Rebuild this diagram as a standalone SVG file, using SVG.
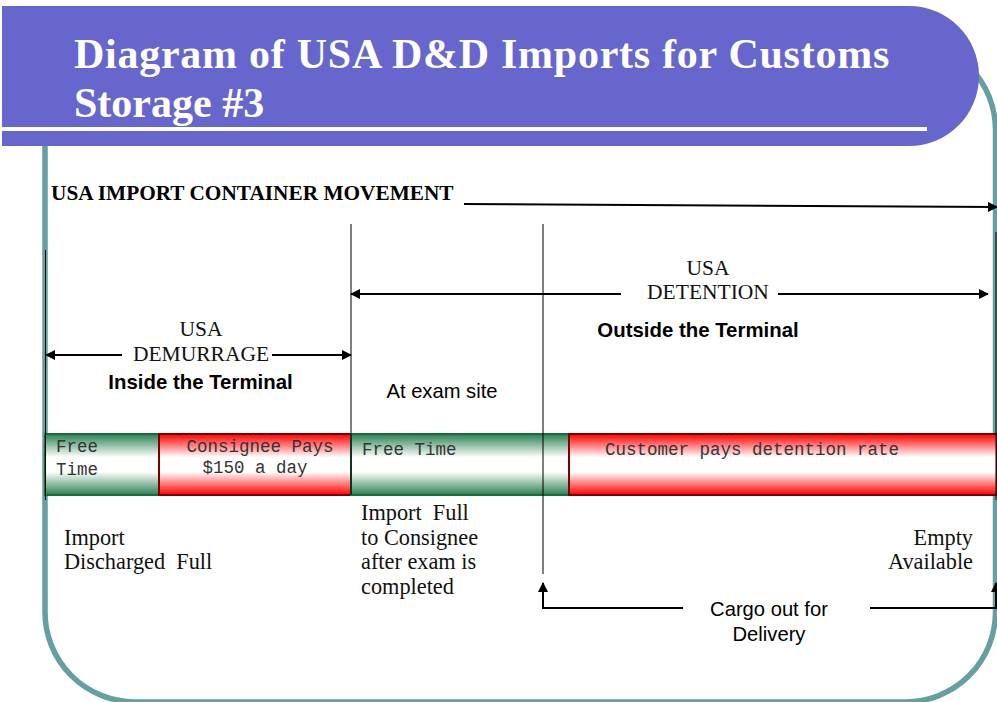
<svg xmlns="http://www.w3.org/2000/svg" width="997" height="702" viewBox="0 0 997 702">
<style>
.t{font-family:"Liberation Serif",serif;font-size:22.3px;fill:#111;white-space:pre}
.u{font-family:"Liberation Serif",serif;font-size:21.5px;fill:#111}
.k{font-family:"Liberation Serif",serif;font-size:21.3px;font-weight:bold;fill:#000}
.s{font-family:"Liberation Sans",Arial,sans-serif;font-size:20.2px;fill:#000}
.b{font-weight:bold;font-size:20.4px}
.m{font-family:"Liberation Mono",monospace;font-size:17.5px;fill:#333}
.h{font-family:"Liberation Serif",serif;font-size:42px;font-weight:bold;fill:#fff}
.c{fill:none;stroke:#000;stroke-width:2}
.th{fill:none;stroke:#000;stroke-width:1}
.gb{stroke:#1c6b3c;stroke-width:2}
.rb{stroke:#7a0000;stroke-width:2}
</style>
<defs>
<linearGradient id="g" x1="0" y1="0" x2="0" y2="1"><stop offset="0" stop-color="#2a8052"/><stop offset=".38" stop-color="#fff"/><stop offset=".62" stop-color="#fff"/><stop offset="1" stop-color="#2a8052"/></linearGradient>
<linearGradient id="r" x1="0" y1="0" x2="0" y2="1"><stop offset="0" stop-color="#ff0000"/><stop offset=".38" stop-color="#fff"/><stop offset=".62" stop-color="#fff"/><stop offset="1" stop-color="#ff0000"/></linearGradient>
<marker id="a" viewBox="0 0 10 10" refX="9" refY="5" markerWidth="5" markerHeight="5" orient="auto-start-reverse" markerUnits="strokeWidth"><path d="M0 0L10 5L0 10Z" fill="#000"/></marker>
</defs>
<g id="frame"><path d="M45 140V612A90 90 0 0 0 135 702H905A90 90 0 0 0 995.500 612V130A90 90 0 0 0 905 40" fill="none" stroke="#659f9f" stroke-width="5.500"/></g>
<g id="title">
<path d="M2 6H909A70 70 0 0 1 909 146H2Z" fill="#6666cc"/>
<rect x="2" y="127" width="925" height="4" fill="#fff"/>
<text class="h" x="74" y="68" letter-spacing=".74">Diagram of USA D&amp;D Imports for Customs</text>
<text class="h" x="74" y="117">Storage #3</text>
</g>
<g id="bar">
<rect class="gb" x="45" y="434" width="114" height="61" fill="url(#g)"/>
<rect class="rb" x="159" y="434" width="192" height="61" fill="url(#r)"/>
<rect class="gb" x="351" y="434" width="218" height="61" fill="url(#g)"/>
<rect class="rb" x="569" y="434" width="428" height="61" fill="url(#r)"/>
<text class="m" x="56" y="452">Free</text>
<text class="m" x="56" y="475">Time</text>
<text class="m" x="260" y="452" text-anchor="middle">Consignee Pays</text>
<text class="m" x="255" y="473" text-anchor="middle">$150 a day</text>
<text class="m" x="362" y="455">Free Time</text>
<text class="m" x="605" y="455">Customer pays detention rate</text>
</g>
<g id="connectors">
<path class="th" d="M45.500 250V500M351 224V495M543 224V574M996 232V500"/>
<path class="c" marker-end="url(#a)" d="M464 204L997 207"/>
<path class="c" marker-start="url(#a)" d="M351 294H621"/>
<path class="c" marker-end="url(#a)" d="M778 294H988"/>
<path class="c" marker-start="url(#a)" d="M46 355H122"/>
<path class="c" marker-end="url(#a)" d="M272 355H351"/>
<path class="c" marker-end="url(#a)" d="M683 608H543V583"/>
<path class="c" marker-end="url(#a)" d="M870 608H996V583"/>
</g>
<g id="labels">
<text class="k" x="51" y="200">USA IMPORT CONTAINER MOVEMENT</text>
<text class="u" x="708" y="275" text-anchor="middle">USA</text>
<text class="u" x="708" y="299" text-anchor="middle">DETENTION</text>
<text class="s b" x="698" y="337" text-anchor="middle">Outside the Terminal</text>
<text class="u" x="201" y="336" text-anchor="middle">USA</text>
<text class="u" x="201" y="361" text-anchor="middle">DEMURRAGE</text>
<text class="s b" x="200.500" y="389" text-anchor="middle">Inside the Terminal</text>
<text class="s" x="442" y="398" text-anchor="middle">At exam site</text>
<text class="t" x="64" y="545">Import</text>
<text class="t" x="64" y="569">Discharged  Full</text>
<text class="t" x="361" y="520">Import  Full</text>
<text class="t" x="361" y="545">to Consignee</text>
<text class="t" x="361" y="569">after exam is</text>
<text class="t" x="361" y="594">completed</text>
<text class="t" x="973" y="545" text-anchor="end">Empty</text>
<text class="t" x="973" y="569" text-anchor="end">Available</text>
<text class="s" x="769" y="616" text-anchor="middle">Cargo out for</text>
<text class="s" x="769" y="641" text-anchor="middle">Delivery</text>
</g>
</svg>
